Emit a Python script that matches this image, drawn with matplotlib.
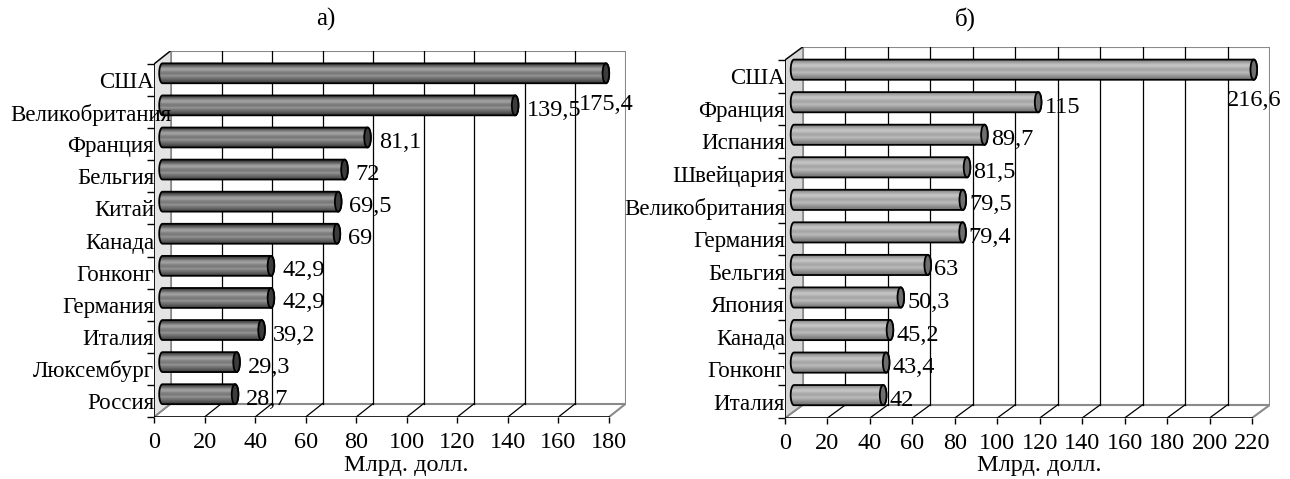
import numpy as np
import matplotlib
matplotlib.use("Agg")
from matplotlib import pyplot as plt
from matplotlib.patches import Polygon, Ellipse
from matplotlib.transforms import Affine2D

plt.rcParams['font.family'] = ['Liberation Serif', 'DejaVu Serif']

countries_a = ["США", "Великобритания", "Франция", "Бельгия", "Китай", "Канада",
               "Гонконг", "Германия", "Италия", "Люксембург", "Россия"]
values_a = [175.4, 139.5, 81.1, 72, 69.5, 69, 42.9, 42.9, 39.2, 29.3, 28.7]

countries_b = ["США", "Франция", "Испания", "Швейцария", "Великобритания", "Германия",
               "Бельгия", "Япония", "Канада", "Гонконг", "Италия"]
values_b = [216.6, 115, 89.7, 81.5, 79.5, 79.4, 63, 50.3, 45.2, 43.4, 42]

xlabel = "Млрд. долл."

W, H = 1290, 479
FS_CAT = 16.5
FS_NUM = 17.5
FS_TITLE = 18

fig = plt.figure(figsize=(W / 100, H / 100), dpi=100)


def panel(cats, vals, xmax, x0, x1, top, bottom, dxp, dyp, stops, cap, wall,
          gap, title, title_x, label_x, min_left):
  n = len(cats)
  s = (x1 - x0) / xmax          # px per unit
  h = (bottom - top) / n        # px per slot
  DX = dxp / s
  DY = dyp / h
  left = x0
  right = x1 + dxp
  ytop = top - dyp
  ax = fig.add_axes([left / W, 1 - bottom / H, (right - left) / W, (bottom - ytop) / H])
  ax.set_xlim(0, xmax + DX)
  ax.set_ylim(n, -DY)
  for sp in ax.spines.values():
    sp.set_visible(False)

  # back wall
  ax.add_patch(Polygon([(DX, -DY), (xmax + DX, -DY), (xmax + DX, n - DY), (DX, n - DY)],
                       closed=True, fc='white', ec='#8a8a8a', lw=1.5, zorder=1))
  ticks = np.arange(0, xmax + 1, 20)
  for t in ticks[1:-1]:
    ax.plot([t + DX, t + DX], [-DY, n - DY], color='black', lw=0.9, zorder=1.1)
  # floor
  for t in ticks[:-1]:
    ax.plot([t, t + DX], [n, n - DY], color='black', lw=0.9, zorder=1.2)
  ax.plot([xmax, xmax + DX], [n, n - DY], color='#8a8a8a', lw=1.5, zorder=1.2)
  # left wall
  ax.add_patch(Polygon([(0, 0), (DX, -DY), (DX, n - DY), (0, n)], closed=True,
                       fc=wall, ec='#8a8a8a', lw=1.2, zorder=1.3))
  ax.plot([0, DX], [0, -DY], color='black', lw=0.9, zorder=1.4)
  ax.plot([0, DX], [n, n - DY], color='#8a8a8a', lw=1.2, zorder=1.4)
  ax.plot([0, 0], [0, n], color='black', lw=1.2, zorder=1.5)
  ax.plot([0, xmax], [n, n], color='black', lw=1.2, zorder=1.5)

  ew = 3.3 / s
  hh = 0.31
  grad = np.array(stops).reshape(-1, 1)
  tt = np.linspace(np.pi / 2, 3 * np.pi / 2, 30)
  tr = np.linspace(-np.pi / 2, np.pi / 2, 30)
  for i, v in enumerate(vals):
    yc = i + 0.5 - 0.5 * DY
    b0 = 0.5 * DX
    b1 = v + 0.5 * DX
    pts = [(b0 + ew * np.cos(a), yc + hh * np.sin(a)) for a in tt]
    pts += [(b1 + ew * np.cos(a), yc + hh * np.sin(a)) for a in tr]
    body = Polygon(pts, closed=True, fc='none', ec='black', lw=1.3, zorder=3.2)
    ax.add_patch(body)
    im = ax.imshow(grad, cmap='gray', vmin=0, vmax=1, aspect='auto',
                   extent=(b0 - ew, b1 + ew, yc + hh, yc - hh),
                   interpolation='bilinear', zorder=3)
    im.set_clip_path(body)
    ax.add_patch(Ellipse((b1, yc), 2 * ew, 2 * hh, fc=cap, ec='black', lw=1.3, zorder=3.3))
    txt = ('%g' % v).replace('.', ',')
    if v > 0.9 * xmax:
      ax.annotate(txt, xy=(b1, yc), xytext=(0, -31), textcoords='offset pixels',
                  ha='center', va='center', fontsize=FS_NUM, zorder=5)
    else:
      ax.annotate(txt, xy=(b1 + ew, yc), xytext=(gap, -5), textcoords='offset pixels',
                  ha='left', va='center', fontsize=FS_NUM, zorder=5)

  ax.set_xlim(0, xmax + DX)
  ax.set_ylim(n, -DY)
  ax.set_xticks(ticks)
  ax.set_xticklabels(['%d' % t for t in ticks], fontsize=FS_NUM)
  ax.tick_params(axis='x', length=4.3, width=1, pad=6.5, color='black')
  ax.set_yticks(np.arange(n) + 0.5)
  ax.set_yticklabels(cats, fontsize=FS_CAT)
  ax.tick_params(axis='y', which='major', length=0, pad=0)
  ax.set_yticks(np.arange(n + 1), minor=True)
  ax.tick_params(axis='y', which='minor', length=5, width=1, color='black')
  ax.yaxis.set_zorder(10)
  ax.set_xlabel(xlabel, fontsize=FS_NUM, labelpad=0, va='center')
  ax.xaxis.set_label_coords(label_x, -(466 - bottom) / (bottom - ytop))
  fig.text((left + title_x * (right - left)) / W, 1 - 19 / H, title,
           ha='center', va='center', fontsize=FS_TITLE)

  # long names run into the side wall, as in the original
  fig.canvas.draw()
  for lab in ax.get_yticklabels():
    bb = lab.get_window_extent()
    if bb.x0 < min_left:
      lab.set_transform(lab.get_transform() + Affine2D().translate(min_left - bb.x0, 0))
  return ax


panel(countries_a, values_a, 180, 154, 609, 64, 417, 17, 13.5,
      [0.24, 0.32, 0.44, 0.56, 0.64, 0.60, 0.52, 0.47, 0.50, 0.58, 0.50, 0.44, 0.38, 0.32, 0.26],
      '#3c3c3c', '#e4e4e4', 8, 'а)', 0.364, 0.534, 10)
panel(countries_b, values_b, 220, 785, 1252, 60, 418, 18, 13.2,
      [0.48, 0.56, 0.64, 0.72, 0.77, 0.74, 0.68, 0.65, 0.68, 0.73, 0.68, 0.62, 0.56, 0.51, 0.46],
      '#6e6e6e', '#d6d6d6', 3, 'б)', 0.371, 0.524, 0)

fig.savefig('out.png', dpi=100)
